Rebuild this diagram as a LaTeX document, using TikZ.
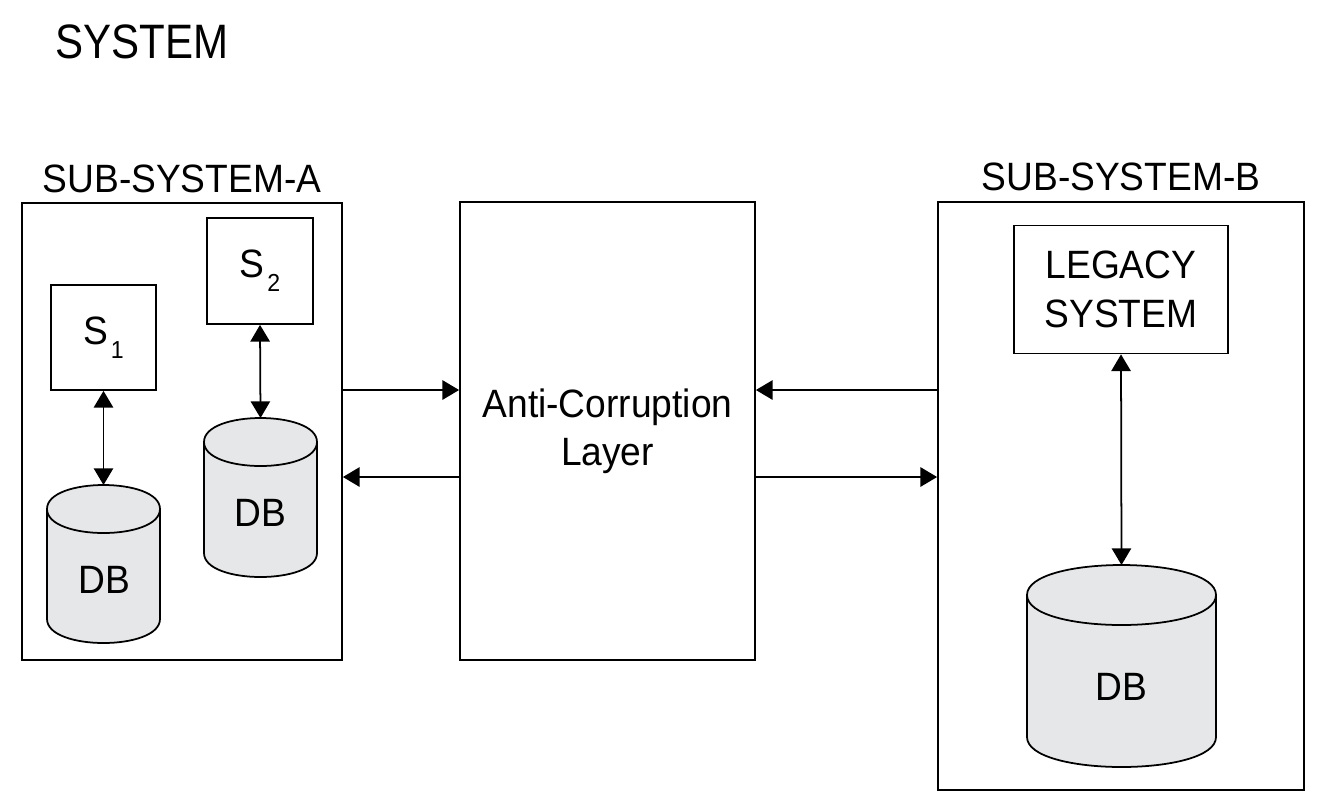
\documentclass[tikz,border=0pt]{standalone}
\usepackage{fontspec}
\setmainfont{Liberation Sans}[FakeStretch=0.94]
\newfontfamily\titlefont{Liberation Sans}[FakeStretch=0.87]
\usetikzlibrary{arrows.meta}
\definecolor{dbgray}{HTML}{E6E7E8}
\newlength\pxu
\setlength\pxu{0.02cm}
\newcommand\dbcyl[6]{%
  \path[dbshape] (#1,#3) -- (#1,#4) .. controls (#1,#4+1.3333*#5) and (#2,#4+1.3333*#5) .. (#2,#4)
     -- (#2,#3) .. controls (#2,#3-1.3333*#5) and (#1,#3-1.3333*#5) .. (#1,#3) -- cycle;
  \draw[dbline] (#1,#3) .. controls (#1,#3+1.3333*#5) and (#2,#3+1.3333*#5) .. (#2,#3);
  \coordinate (#6) at ({(#1+#2)/2},#3-#5);
}
\newcommand\sub[1]{\kern1.5pt\raisebox{-0.36em}{\fontsize{14pt}{15pt}\selectfont #1}}
\begin{document}
\begin{tikzpicture}[x=0.02cm,y=-0.02cm,
  every node/.style={font=\fontsize{22.5pt}{27.5pt}\selectfont, inner sep=0pt},
  box/.style={draw, line width=1pt, inner sep=0pt},
  dbshape/.style={draw, fill=dbgray, line width=1pt, line join=round},
  dbline/.style={draw, line width=1pt},
  conn/.style={line width=1pt, >={Triangle[length=9.5pt,width=11pt]}},
  title/.style={font=\titlefont\fontsize{27.5pt}{32pt}\selectfont, anchor=base west},
  sublabel/.style={anchor=base}
]
\useasboundingbox (0,0) rectangle (1321,809);

\node[title] (sys) at (55,58) {SYSTEM};
\node[sublabel] (labA) at (182,192) {SUB-SYSTEM-A};
\node[sublabel] (labB) at (1121,190) {SUB-SYSTEM-B};

% containers
\node[box, minimum width=320\pxu, minimum height=457\pxu] (boxA) at (182,431.5) {};
\node[box, minimum width=295\pxu, minimum height=458\pxu, align=center] (acl) at (607.5,431) {Anti-Corruption\\Layer};
\node[box, minimum width=366\pxu, minimum height=588\pxu] (boxB) at (1121,496) {};

% sub-system A
\node[box, minimum width=105\pxu, minimum height=105\pxu] (s1) at (103.5,337.5) {S\sub{1}};
\node[box, minimum width=106\pxu, minimum height=106\pxu] (s2) at (260,271) {S\sub{2}};
\dbcyl{47}{160}{509}{619}{24}{db1top}
\node (db1) at (104,580) {DB};
\dbcyl{204}{317}{442}{553}{24}{db2top}
\node (db2) at (260,513) {DB};

% sub-system B
\node[box, minimum width=214\pxu, minimum height=128\pxu, align=center] (legacy) at (1121,289.5) {LEGACY\\SYSTEM};
\dbcyl{1027}{1216}{595}{737}{30}{db3top}
\node (db3) at (1121,687) {DB};

% connectors
\coordinate (yu) at (0,390);
\coordinate (yl) at (0,477);
\draw[conn,<->] (s1.south) -- (db1top);
\draw[conn,<->] (s2.south) -- (db2top);
\draw[conn,<->] (legacy.south) -- (db3top);
\draw[conn,->] (boxA.east |- yu) -- (acl.west |- yu);
\draw[conn,->] (acl.west |- yl) -- (boxA.east |- yl);
\draw[conn,->] (boxB.west |- yu) -- (acl.east |- yu);
\draw[conn,->] (acl.east |- yl) -- (boxB.west |- yl);
\end{tikzpicture}
\end{document}
